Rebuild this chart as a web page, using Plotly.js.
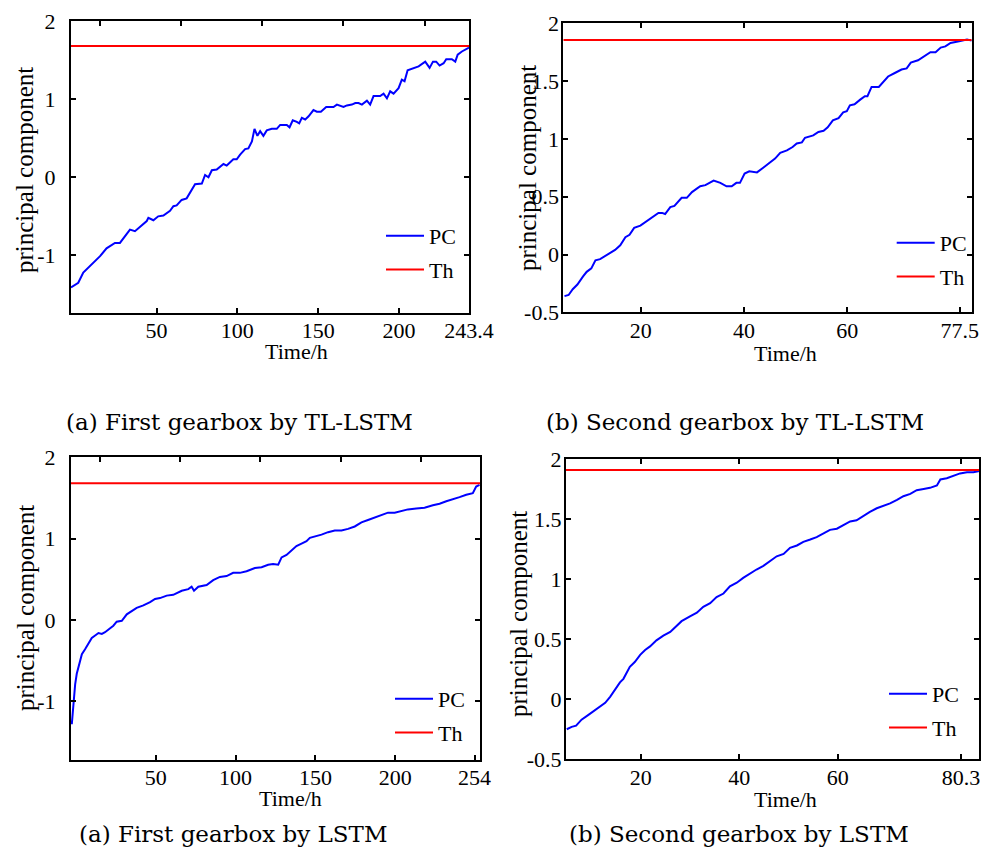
<!DOCTYPE html>
<html>
<head>
<meta charset="utf-8">
<script src="https://cdn.plot.ly/plotly-3.0.1.min.js"></script>
<style>html,body{margin:0;padding:0;background:#fff}#chart{width:982px;height:850px}</style>
</head>
<body>
<div id="chart"></div>
<script>
// ---------- data ----------
// (a) First gearbox by TL-LSTM
const tlFirstTime = [-3,1.5,4.6,7.7,12.9,15,19,24.2,27.3,30.4,33.5,36.6,39.7,43.9,44.9,48,51,54.2,58.3,60.4,62.4,65.5,68.6,70.7,73.8,78,80,82.1,84.2,87.2,91.4,93.4,97.5,99.6,101.7,104.8,106.8,109,110.6,112.4,114.1,116.1,118.2,121.3,124.4,126.5,130.6,132.3,134.3,136.8,138.3,139.9,142,144.1,147.1,149.2,151.7,155,159.5,161.6,163.6,165.7,167.8,170.9,173,175,177.1,180.2,182.2,184.3,188.4,190.5,192.6,194.6,196.7,199.8,201.8,203.5,205.4,209.1,212.2,216.3,219,221.1,223.1,225.2,227.7,229.3,232.8,234.9,236.4,239,243.4];
const tlFirstPC = [-1.41,-1.35,-1.22,-1.16,-1.06,-1.01,-0.91,-0.84,-0.84,-0.75,-0.67,-0.69,-0.63,-0.56,-0.52,-0.55,-0.5,-0.49,-0.43,-0.37,-0.36,-0.29,-0.27,-0.19,-0.09,-0.08,0.03,0,0.09,0.1,0.17,0.15,0.23,0.23,0.29,0.36,0.37,0.46,0.62,0.53,0.59,0.53,0.6,0.62,0.62,0.67,0.67,0.64,0.73,0.71,0.69,0.76,0.74,0.78,0.86,0.84,0.84,0.9,0.9,0.93,0.92,0.9,0.92,0.93,0.95,0.95,0.93,0.98,0.93,1.04,1.04,1.07,1.01,1.1,1.07,1.14,1.25,1.23,1.37,1.4,1.42,1.48,1.4,1.48,1.48,1.43,1.46,1.51,1.51,1.48,1.57,1.61,1.66];
// (b) Second gearbox by TL-LSTM
const tlSecondTime = [5.2,6,6.8,7.7,8.8,9.5,10.4,11.2,12.1,13.1,14.1,15,16,17,17.8,18.7,19.9,21.2,22.5,23.4,24.1,24.7,25.7,26.5,27.9,28.9,29.9,31.5,32.5,34.1,35.4,36.6,37.6,38.5,39.2,40.1,41,42.5,43.7,45,46,47,48.3,49.4,50.2,51.2,51.8,53.4,54.4,55.4,56.2,57.2,58.3,59.2,59.9,60.5,61.4,62.5,63.4,63.9,64.7,66.1,67,67.9,69.2,70.5,71.5,72.3,73.7,74.7,76.1,77.1,78.1,79,80,81.2,82.5,83.2,84.1];
const tlSecondPC = [-0.36,-0.35,-0.3,-0.26,-0.19,-0.15,-0.12,-0.05,-0.04,-0.01,0.02,0.04,0.08,0.15,0.17,0.23,0.25,0.29,0.33,0.36,0.36,0.35,0.41,0.42,0.49,0.49,0.54,0.59,0.6,0.64,0.62,0.59,0.59,0.62,0.62,0.7,0.72,0.71,0.75,0.8,0.83,0.88,0.9,0.93,0.96,0.97,1.01,1.03,1.06,1.07,1.1,1.16,1.18,1.23,1.24,1.29,1.3,1.34,1.37,1.37,1.45,1.45,1.5,1.54,1.57,1.6,1.61,1.66,1.68,1.71,1.75,1.75,1.79,1.8,1.83,1.84,1.85,1.86,1.85];
// (a) First gearbox by LSTM
const lstmFirstTime = [-2.5,-1.5,-0.4,0.6,2.3,3.8,5.8,7.9,10,12.1,14.2,16.3,18.3,21.5,23.5,25.6,28.8,31.9,35,38.1,42.3,46.5,49.6,52.7,56.9,61,66.3,70.4,72.5,74,76.7,81.9,86,90.2,94.4,98.5,102.7,106.9,112.1,116.3,120.4,123.5,126.7,128.8,131.9,135,138.1,141.3,144.4,146.5,150.6,153.8,157.9,162.1,166.3,170.4,174.6,178.8,182.9,187.1,191.3,195.4,199.6,203.8,207.9,213.1,218.3,223.5,227.7,231.9,236,240.2,244.4,248.5,250.6,252.7];
const lstmFirstPC = [-1.28,-1.03,-0.79,-0.66,-0.52,-0.42,-0.36,-0.29,-0.22,-0.19,-0.16,-0.17,-0.15,-0.1,-0.07,-0.02,-0.01,0.07,0.11,0.15,0.18,0.22,0.26,0.27,0.3,0.31,0.36,0.38,0.41,0.36,0.41,0.43,0.49,0.53,0.54,0.58,0.58,0.6,0.64,0.65,0.68,0.69,0.68,0.77,0.8,0.86,0.91,0.94,0.97,1.01,1.03,1.05,1.08,1.1,1.1,1.12,1.15,1.2,1.23,1.26,1.29,1.32,1.32,1.34,1.36,1.37,1.38,1.41,1.43,1.46,1.48,1.51,1.54,1.56,1.64,1.66];
// (b) Second gearbox by LSTM
const lstmSecondTime = [5,6,6.9,8,9.4,10.7,12.1,12.8,13.8,14.8,15.8,16.5,17.2,17.8,18.8,19.9,20.9,21.9,23.2,24.6,26,27,28.3,30,31.4,32.7,34.1,35.4,36.8,38.1,39.5,40.8,42.2,43.5,44.9,46.3,47.6,49,50.3,51.7,53,54.4,55.7,57.1,58.4,59.8,61.1,62.5,63.8,65.2,66.5,67.9,69.3,70.6,72,73.3,74.7,76,77.4,78.7,80.1,80.8,82.1,83.5,84.8,86.2,87.5,88.7];
const lstmSecondPC = [-0.25,-0.23,-0.22,-0.17,-0.13,-0.09,-0.05,-0.03,0.02,0.08,0.14,0.17,0.22,0.27,0.31,0.37,0.41,0.44,0.49,0.53,0.56,0.6,0.65,0.69,0.72,0.77,0.8,0.85,0.88,0.94,0.97,1.01,1.05,1.08,1.11,1.15,1.19,1.21,1.26,1.28,1.31,1.33,1.35,1.38,1.41,1.42,1.45,1.48,1.49,1.53,1.56,1.59,1.61,1.63,1.66,1.69,1.71,1.74,1.75,1.76,1.78,1.83,1.84,1.86,1.88,1.89,1.89,1.9];
// thresholds
const thresholds = [1.68, 1.855, 1.68, 1.908];
// tick labels
const xTickText1 = ['50','100','150','200','243.4'];
const xTickText2 = ['20','40','60','77.5'];
const xTickText3 = ['50','100','150','200','254'];
const xTickText4 = ['20','40','60','80.3'];
const yTickTextA = ['-1','0','1','2'];
const yTickTextB = ['-0.5','0','0.5','1','1.5','2'];
const topTickVals = [15, 65, 115.5, 165.7, 216];
const captions = ['(a) First gearbox by TL-LSTM','(b) Second gearbox by TL-LSTM','(a) First gearbox by LSTM','(b) Second gearbox by LSTM'];

// ---------- layout helpers ----------
const W = 982, H = 850;
const SERIF = '"Liberation Serif", "Times New Roman", Times, serif';
const CAPFONT = '"DejaVu Serif", serif';
const px = v => v / W, py = v => 1 - v / H;

const xRanges = [[-3, 243.4], [4.97, 84.1], [-3, 253], [4.85, 88.7]];
const yRanges = [[-1.737, 2], [-0.5, 2], [-1.72, 2], [-0.5, 2]];
const xTickVals = [[50,100,150,200,243.4],[20,40,60,81.8],[50,100,150,200,249.6],[20,40,60,85]];
const yTickVals = [[-1,0,1,2],[-0.5,0,0.5,1,1.5,2],[-1,0,1,2],[-0.5,0,0.5,1,1.5,2]];
const xTickTexts = [xTickText1, xTickText2, xTickText3, xTickText4];
const yTickTexts = [yTickTextA, yTickTextB, yTickTextA, yTickTextB];
// plot boxes in pixels: [left, right, top, bottom]
const boxes = [[71,469,21,313],[563.3,971.7,23.3,312.3],[71,480,457.3,760],[566,979.3,459,759.3]];
const yStandoff = [9, -2, 9, -2];
const hasTopAxis = [true, false, true, false];

function axisBase() {
  return {
    ticks: 'inside', ticklen: 5, tickwidth: 2, tickcolor: '#000',
    showline: true, linewidth: 2, linecolor: '#000', mirror: 'ticks',
    showgrid: false, zeroline: false, tickmode: 'array',
    tickfont: {family: SERIF, size: 22, color: '#000'}
  };
}

const layout = {
  width: W, height: H,
  margin: {l: 0, r: 0, t: 0, b: 0},
  paper_bgcolor: '#fff', plot_bgcolor: '#fff',
  showlegend: true,
  font: {family: SERIF, color: '#000'},
  annotations: []
};

const series = [
  [tlFirstTime, tlFirstPC],
  [tlSecondTime, tlSecondPC],
  [lstmFirstTime, lstmFirstPC],
  [lstmSecondTime, lstmSecondPC]
];

const traces = [];
const legendPos = [[386,237],[896.7,244],[395,700],[889,695]];
const xTitlePos = [[296,352],[785,353],[290,798],[785,799]];
const yTitlePos = [[25,170],[527,168],[25,608],[518,614]];
const capPos = [[239,422,23],[734.5,422,23],[232.5,834,23],[739,834,23]];

let extraAxis = 5;
for (let i = 0; i < 4; i++) {
  const n = i + 1;
  const xk = n === 1 ? 'xaxis' : 'xaxis' + n;
  const yk = n === 1 ? 'yaxis' : 'yaxis' + n;
  const xr = n === 1 ? 'x' : 'x' + n;
  const yr = n === 1 ? 'y' : 'y' + n;
  const lg = n === 1 ? 'legend' : 'legend' + n;
  const b = boxes[i];
  layout[xk] = Object.assign(axisBase(), {
    domain: [px(b[0]), px(b[1])], range: xRanges[i], anchor: yr,
    tickvals: xTickVals[i], ticktext: xTickTexts[i], ticklabelstandoff: -3,
    mirror: hasTopAxis[i] ? true : 'ticks'
  });
  let thX = xr;
  if (hasTopAxis[i]) {
    const tk = 'xaxis' + extraAxis;
    thX = 'x' + extraAxis;
    layout[tk] = {
      overlaying: xr, anchor: yr, side: 'top', range: xRanges[i],
      domain: [px(b[0]), px(b[1])],
      tickmode: 'array', tickvals: topTickVals, ticks: 'inside', ticklen: 5, tickwidth: 2,
      tickcolor: '#000', showticklabels: false, showline: false, showgrid: false, zeroline: false
    };
    extraAxis++;
  }
  layout[yk] = Object.assign(axisBase(), {
    domain: [py(b[3]), py(b[2])], range: yRanges[i], anchor: xr,
    tickvals: yTickVals[i], ticktext: yTickTexts[i], ticklabelstandoff: yStandoff[i]
  });
  layout[lg] = {
    x: px(legendPos[i][0] - 5), y: py(legendPos[i][1] - 22),
    xanchor: 'left', yanchor: 'top', bgcolor: 'rgba(0,0,0,0)', borderwidth: 0,
    font: {family: SERIF, size: 22, color: '#000'}, tracegroupgap: 2, itemwidth: 38
  };
  traces.push({
    type: 'scatter', mode: 'lines', x: series[i][0], y: series[i][1],
    xaxis: xr, yaxis: yr, name: 'PC', legend: lg, legendgroup: 'pc' + n,
    line: {color: '#0000ff', width: 2}
  });
  traces.push({
    type: 'scatter', mode: 'lines', x: xRanges[i], y: [thresholds[i], thresholds[i]],
    xaxis: thX, yaxis: yr, name: 'Th', legend: lg, legendgroup: 'th' + n,
    line: {color: '#ff0000', width: 2}
  });
  layout.annotations.push({
    text: 'Time/h', xref: 'paper', yref: 'paper', x: px(xTitlePos[i][0]), y: py(xTitlePos[i][1]),
    xanchor: 'center', yanchor: 'middle', showarrow: false,
    font: {family: SERIF, size: 22, color: '#000'}
  });
  layout.annotations.push({
    text: 'principal component', xref: 'paper', yref: 'paper', x: px(yTitlePos[i][0]), y: py(yTitlePos[i][1]),
    xanchor: 'center', yanchor: 'middle', showarrow: false, textangle: -90,
    font: {family: SERIF, size: 25, color: '#000'}
  });
  layout.annotations.push({
    text: captions[i], xref: 'paper', yref: 'paper', x: px(capPos[i][0]), y: py(capPos[i][1]),
    xanchor: 'center', yanchor: 'middle', showarrow: false,
    font: {family: CAPFONT, size: capPos[i][2], color: '#000'}
  });
}

Plotly.newPlot('chart', traces, layout, {displayModeBar: false, staticPlot: true});
</script>
</body>
</html>
